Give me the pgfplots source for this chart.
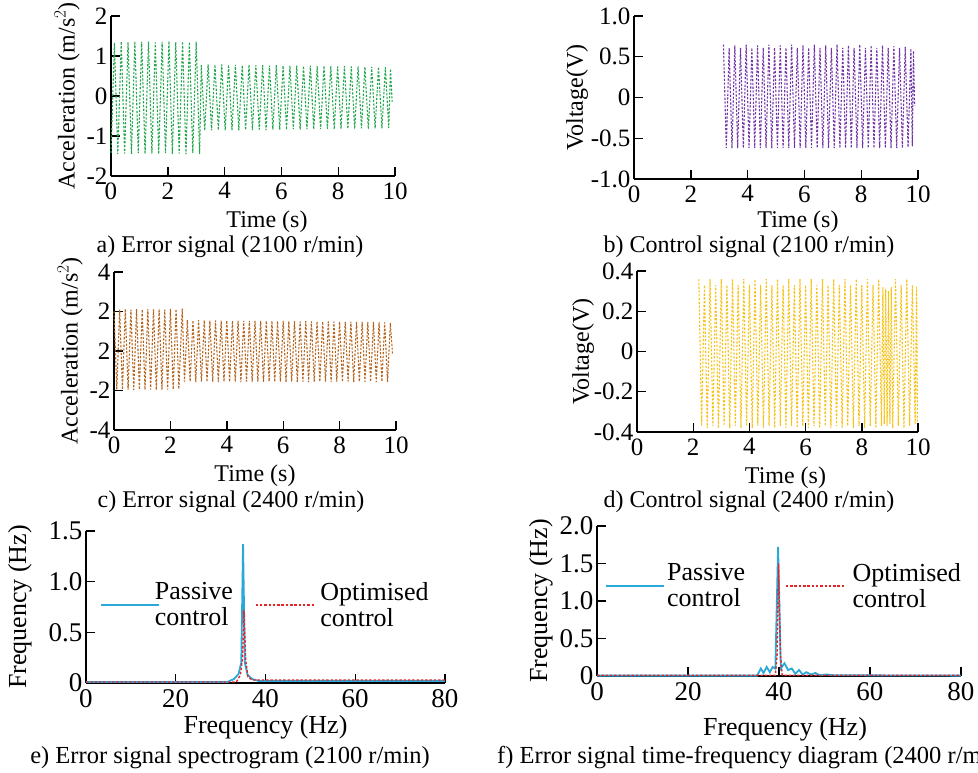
\documentclass[border=0pt]{standalone}
\usepackage{pgfplots}
\pgfplotsset{compat=1.18}
\usepackage{fontspec}
\setmainfont{Liberation Serif}
\definecolor{sgreen}{HTML}{23A84E}
\definecolor{spurple}{HTML}{7336A8}
\definecolor{sbrown}{HTML}{B5651E}
\definecolor{syellow}{HTML}{F7C21A}
\definecolor{sblue}{HTML}{2AA9D8}
\definecolor{sred}{HTML}{E3242B}
\newcommand{\fsz}[1]{\fontsize{#1}{#1}\selectfont}

\pgfplotsset{
  panel/.style={
    scale only axis, anchor=south west,
    axis lines*=left,
    axis line style={line width=1.4pt, black},
    tick style={line width=1.4pt, black},
    major tick length=9pt, tick align=inside,
    ticklabel style={font=\fsz{25}},
    xticklabel style={yshift=-3pt},
    label style={font=\fsz{24}},
    xlabel style={yshift=-5pt},
    /pgf/number format/assume math mode=true,
    clip=false,
  },
  bigpanel/.style={panel,
    ticklabel style={font=\fsz{27}},
    label style={font=\fsz{26}},
  },
  sig/.style={line width=1.1pt, dash pattern=on 2.2pt off 1.6pt},
  leg/.style={
    legend columns=2,
    legend image code/.code={\draw[##1] (0pt,0pt) -- (58pt,0pt);},
    legend style={draw=none, fill=none, inner sep=0pt, font=\fsz{26},
      cells={align=left}, nodes={inner sep=2pt}, anchor=west},
  },
}

\begin{document}
\begin{tikzpicture}
\useasboundingbox (0,0) rectangle (978pt,-773pt);

% a) error signal 2100
\begin{axis}[panel, at={(111pt,-176pt)}, width=284pt, height=160pt,
  xmin=0, xmax=10, ymin=-2, ymax=2, xtick={0,2,...,10}, ytick={-2,-1,0,1,2},
  xlabel={Time (s)}, ylabel={Acceleration (m/s$^2$)},
  xlabel style={xshift=14pt}]
\addplot[sig, sgreen] coordinates {
(0,-1.42)(0.12,1.33)(0.24,-1.45)(0.36,1.36)(0.48,-1.44)(0.60,1.34)(0.72,-1.45)
(0.84,1.37)(0.96,-1.43)(1.08,1.35)(1.20,-1.45)(1.32,1.36)(1.44,-1.44)(1.56,1.34)
(1.68,-1.45)(1.80,1.35)(1.92,-1.43)(2.04,1.37)(2.16,-1.45)(2.28,1.34)(2.40,-1.44)
(2.52,1.36)(2.64,-1.45)(2.76,1.35)(2.88,-1.43)(3.00,1.36)(3.12,-1.45)
(3.18,0.77)(3.30,-0.86)(3.42,0.79)(3.54,-0.86)(3.66,0.78)(3.78,-0.85)(3.90,0.79)
(4.02,-0.86)(4.14,0.78)(4.26,-0.85)(4.38,0.78)(4.50,-0.86)(4.62,0.77)(4.74,-0.85)
(4.86,0.78)(4.98,-0.85)(5.10,0.77)(5.22,-0.84)(5.34,0.77)(5.46,-0.85)(5.58,0.76)
(5.70,-0.84)(5.82,0.77)(5.94,-0.84)(6.06,0.76)(6.18,-0.84)(6.30,0.76)(6.42,-0.83)
(6.54,0.76)(6.66,-0.84)(6.78,0.75)(6.90,-0.83)(7.02,0.76)(7.14,-0.83)(7.26,0.75)
(7.38,-0.83)(7.50,0.75)(7.62,-0.82)(7.74,0.75)(7.86,-0.83)(7.98,0.74)(8.10,-0.82)
(8.22,0.75)(8.34,-0.82)(8.46,0.74)(8.58,-0.82)(8.70,0.74)(8.82,-0.81)(8.94,0.73)
(9.06,-0.82)(9.18,0.73)(9.30,-0.81)(9.42,0.73)(9.54,-0.81)(9.66,0.72)(9.78,-0.80)
(9.84,0.68)(9.90,-0.15)
};
\end{axis}

% b) control signal 2100
\begin{axis}[panel, at={(634pt,-179pt)}, width=284pt, height=163pt,
  xmin=0, xmax=10, ymin=-1, ymax=1, xtick={0,2,...,10}, ytick={-1,-0.5,0,0.5,1},
  yticklabels={-1.0,-0.5,0,0.5,1.0},
  xlabel={Time (s)}, ylabel={Voltage(V)},
  xlabel style={xshift=22pt, yshift=3pt}, ylabel style={yshift=-4pt}]
\addplot[sig, spurple] coordinates {
(3.15,0.65)(3.25,-0.62)(3.35,0.61)(3.45,-0.62)(3.55,0.64)(3.65,-0.62)(3.75,0.61)
(3.85,-0.62)(3.95,0.65)(4.05,-0.62)(4.15,0.61)(4.25,-0.62)(4.35,0.64)(4.45,-0.62)
(4.55,0.61)(4.65,-0.62)(4.75,0.65)(4.85,-0.62)(4.95,0.61)(5.05,-0.62)(5.15,0.64)
(5.25,-0.62)(5.35,0.61)(5.45,-0.62)(5.55,0.65)(5.65,-0.62)(5.75,0.61)(5.85,-0.62)
(5.95,0.64)(6.05,-0.62)(6.15,0.61)(6.25,-0.62)(6.35,0.65)(6.45,-0.62)(6.55,0.61)
(6.65,-0.62)(6.75,0.64)(6.85,-0.62)(6.95,0.61)(7.05,-0.62)(7.15,0.65)(7.25,-0.62)
(7.35,0.61)(7.45,-0.62)(7.55,0.64)(7.65,-0.62)(7.75,0.61)(7.85,-0.62)(7.95,0.65)
(8.05,-0.62)(8.15,0.61)(8.25,-0.62)(8.35,0.64)(8.45,-0.62)(8.55,0.61)(8.65,-0.62)
(8.75,0.64)(8.85,-0.62)(8.95,0.61)(9.05,-0.62)(9.15,0.63)(9.25,-0.62)(9.35,0.61)
(9.45,-0.62)(9.55,0.62)(9.65,-0.61)(9.75,0.60)(9.80,-0.60)(9.84,0.57)(9.88,-0.10)
};
\end{axis}

% c) error signal 2400
\begin{axis}[panel, at={(114pt,-430pt)}, width=282pt, height=158pt,
  xmin=0, xmax=10, ymin=-4, ymax=4, xtick={0,2,...,10}, ytick={-4,-2,0,2,4},
  yticklabels={-4,-2,2,2,4},
  xlabel={Time (s)}, ylabel={Acceleration (m/s$^2$)}]
\addplot[sig, sbrown] coordinates {
(0,2.0)(0.1,-1.95)(0.2,2.1)(0.3,-1.96)(0.4,2.12)(0.5,-1.95)(0.6,2.1)(0.7,-1.97)
(0.8,2.12)(0.9,-1.95)(1.0,2.1)(1.1,-1.96)(1.2,2.12)(1.3,-1.95)(1.4,2.11)(1.5,-1.97)
(1.6,2.12)(1.7,-1.95)(1.8,2.1)(1.9,-1.96)(2.0,2.13)(2.1,-1.94)(2.2,2.12)(2.3,-1.93)
(2.42,2.15)(2.5,-1.55)
(2.6,1.56)(2.7,-1.55)(2.8,1.55)(2.9,-1.57)(3.0,1.56)(3.1,-1.55)(3.2,1.55)(3.3,-1.56)
(3.4,1.54)(3.5,-1.55)(3.6,1.55)(3.7,-1.57)(3.8,1.54)(3.9,-1.55)(4.0,1.54)(4.1,-1.56)
(4.2,1.53)(4.3,-1.55)(4.4,1.54)(4.5,-1.57)(4.6,1.53)(4.7,-1.55)(4.8,1.53)(4.9,-1.56)
(5.0,1.52)(5.1,-1.55)(5.2,1.53)(5.3,-1.57)(5.4,1.52)(5.5,-1.55)(5.6,1.52)(5.7,-1.56)
(5.8,1.51)(5.9,-1.55)(6.0,1.52)(6.1,-1.57)(6.2,1.51)(6.3,-1.55)(6.4,1.51)(6.5,-1.56)
(6.6,1.50)(6.7,-1.55)(6.8,1.51)(6.9,-1.57)(7.0,1.50)(7.1,-1.55)(7.2,1.50)(7.3,-1.56)
(7.4,1.49)(7.5,-1.55)(7.6,1.50)(7.7,-1.57)(7.8,1.49)(7.9,-1.55)(8.0,1.49)(8.1,-1.56)
(8.2,1.48)(8.3,-1.55)(8.4,1.49)(8.5,-1.57)(8.6,1.48)(8.7,-1.55)(8.8,1.48)(8.9,-1.56)
(9.0,1.47)(9.1,-1.55)(9.2,1.47)(9.3,-1.57)(9.4,1.46)(9.5,-1.55)(9.6,1.45)(9.7,-1.56)
(9.8,1.42)(9.88,-0.20)
};
\end{axis}

% d) control signal 2400
\begin{axis}[panel, at={(637pt,-432pt)}, width=281pt, height=161pt,
  xmin=0, xmax=10, ymin=-0.4, ymax=0.4, xtick={0,2,...,10}, ytick={-0.4,-0.2,0,0.2,0.4},
  yticklabels={-0.4,-0.2,0,0.2,0.4},
  xlabel={Time (s)}, ylabel={Voltage(V)},
  xlabel style={xshift=8pt}, ylabel style={yshift=-7pt}]
\addplot[sig, syellow] coordinates {
(2.2,0.36)(2.3,-0.37)(2.4,0.33)(2.5,-0.38)(2.6,0.36)(2.7,-0.37)(2.8,0.33)(2.9,-0.38)
(3.0,0.36)(3.1,-0.37)(3.2,0.33)(3.3,-0.38)(3.4,0.36)(3.5,-0.37)(3.6,0.33)(3.7,-0.38)
(3.8,0.36)(3.9,-0.37)(4.0,0.33)(4.1,-0.38)(4.2,0.36)(4.3,-0.37)(4.4,0.33)(4.5,-0.38)
(4.6,0.36)(4.7,-0.37)(4.8,0.33)(4.9,-0.38)(5.0,0.36)(5.1,-0.37)(5.2,0.33)(5.3,-0.38)
(5.4,0.36)(5.5,-0.37)(5.6,0.33)(5.7,-0.38)(5.8,0.36)(5.9,-0.37)(6.0,0.33)(6.1,-0.38)
(6.2,0.36)(6.3,-0.37)(6.4,0.33)(6.5,-0.38)(6.6,0.36)(6.7,-0.37)(6.8,0.33)(6.9,-0.38)
(7.0,0.36)(7.1,-0.37)(7.2,0.33)(7.3,-0.38)(7.4,0.36)(7.5,-0.37)(7.6,0.33)(7.7,-0.38)
(7.8,0.36)(7.9,-0.37)(8.0,0.33)(8.1,-0.38)(8.2,0.36)(8.3,-0.37)(8.4,0.33)(8.5,-0.38)
(8.6,0.36)(8.7,-0.37)(8.75,0.32)(8.8,-0.36)(8.85,0.31)(8.9,-0.37)(8.95,0.30)(9.0,-0.36)
(9.05,0.32)(9.1,-0.38)(9.2,0.36)(9.3,-0.37)(9.4,0.33)(9.5,-0.38)(9.6,0.36)(9.7,-0.37)
(9.8,0.33)(9.9,-0.36)(9.95,0.32)(9.98,-0.35)
};
\end{axis}

% e) spectrogram 2100
\begin{axis}[bigpanel, leg, at={(86pt,-683pt)}, width=359pt, height=152pt,
  xmin=0, xmax=80, ymin=0, ymax=1.5, xtick={0,20,...,80}, ytick={0,0.5,1,1.5},
  yticklabels={0,0.5,1.0,1.5},
  xlabel={Frequency (Hz)}, ylabel={Frequency (Hz)},
  xlabel style={yshift=4pt}, ylabel style={yshift=10pt},
  legend style={at={(axis cs:3.1,0.77)},
    /tikz/column 1/.append style={column sep=-7pt},
    /tikz/column 2/.append style={column sep=20pt},
    /tikz/column 3/.append style={column sep=4pt}}]
\addplot[sblue, line width=1.8pt] coordinates {
(0,0.01)(31.5,0.01)(33,0.04)(34,0.09)(34.6,0.2)(35,1.37)(35.4,0.2)(36,0.08)
(37,0.04)(38.5,0.02)(80,0.02)
};
\addlegendentry{Passive\\control}
\addplot[sred, line width=1.4pt, dash pattern=on 2.5pt off 1.8pt] coordinates {
(0,0.01)(33.5,0.01)(34.4,0.08)(34.9,0.25)(35.2,0.72)(35.6,0.22)(36.1,0.06)
(37,0.03)(80,0.03)
};
\addlegendentry{Optimised\\control}
\end{axis}

% f) time-frequency 2400
\begin{axis}[bigpanel, leg, at={(597pt,-676pt)}, width=364pt, height=150pt,
  xmin=0, xmax=80, ymin=0, ymax=2, xtick={0,20,...,80}, ytick={0,0.5,...,2},
  yticklabels={0,0.5,1.0,1.5,2.0},
  xlabel={Frequency (Hz)}, ylabel={Frequency (Hz)},
  xlabel style={xshift=6pt, yshift=-5pt},
  legend style={at={(axis cs:1.8,1.2)},
    /tikz/column 2/.append style={column sep=38pt},
    /tikz/column 3/.append style={column sep=6pt}}]
\addplot[sblue, line width=1.8pt] coordinates {
(0,0.005)(35.2,0.005)(36.0,0.10)(36.6,0.04)(37.3,0.12)(38.0,0.05)(38.6,0.12)
(39.2,0.10)(39.8,1.72)(40.4,0.10)(41.2,0.17)(42.0,0.08)(42.8,0.10)(43.6,0.03)
(44.4,0.08)(45.2,0.02)(46.0,0.05)(47.0,0.02)(48.0,0.04)(49.0,0.01)(50.5,0.02)
(52.0,0.01)(80,0.005)
};
\addlegendentry{Passive\\control}
\addplot[sred, line width=1.4pt, dash pattern=on 2.5pt off 1.8pt] coordinates {
(0,0.01)(39.2,0.01)(39.6,0.3)(39.9,1.5)(40.3,0.3)(40.7,0.01)(80,0.01)
};
\addlegendentry{Optimised\\control}
\end{axis}

\node[font=\fsz{24}] at (230pt,-247pt) {a) Error signal (2100 r/min)};
\node[font=\fsz{24}] at (749pt,-247pt) {b) Control signal (2100 r/min)};
\node[font=\fsz{24}] at (231pt,-502pt) {c) Error signal (2400 r/min)};
\node[font=\fsz{24}] at (749pt,-502pt) {d) Control signal (2400 r/min)};
\node[font=\fsz{24.5}] at (230pt,-758pt) {e) Error signal spectrogram (2100 r/min)};
\node[font=\fsz{24.5}, anchor=west, inner sep=0pt] at (497pt,-758pt) {f) Error signal time-frequency diagram (2400 r/min)};
\end{tikzpicture}
\end{document}
